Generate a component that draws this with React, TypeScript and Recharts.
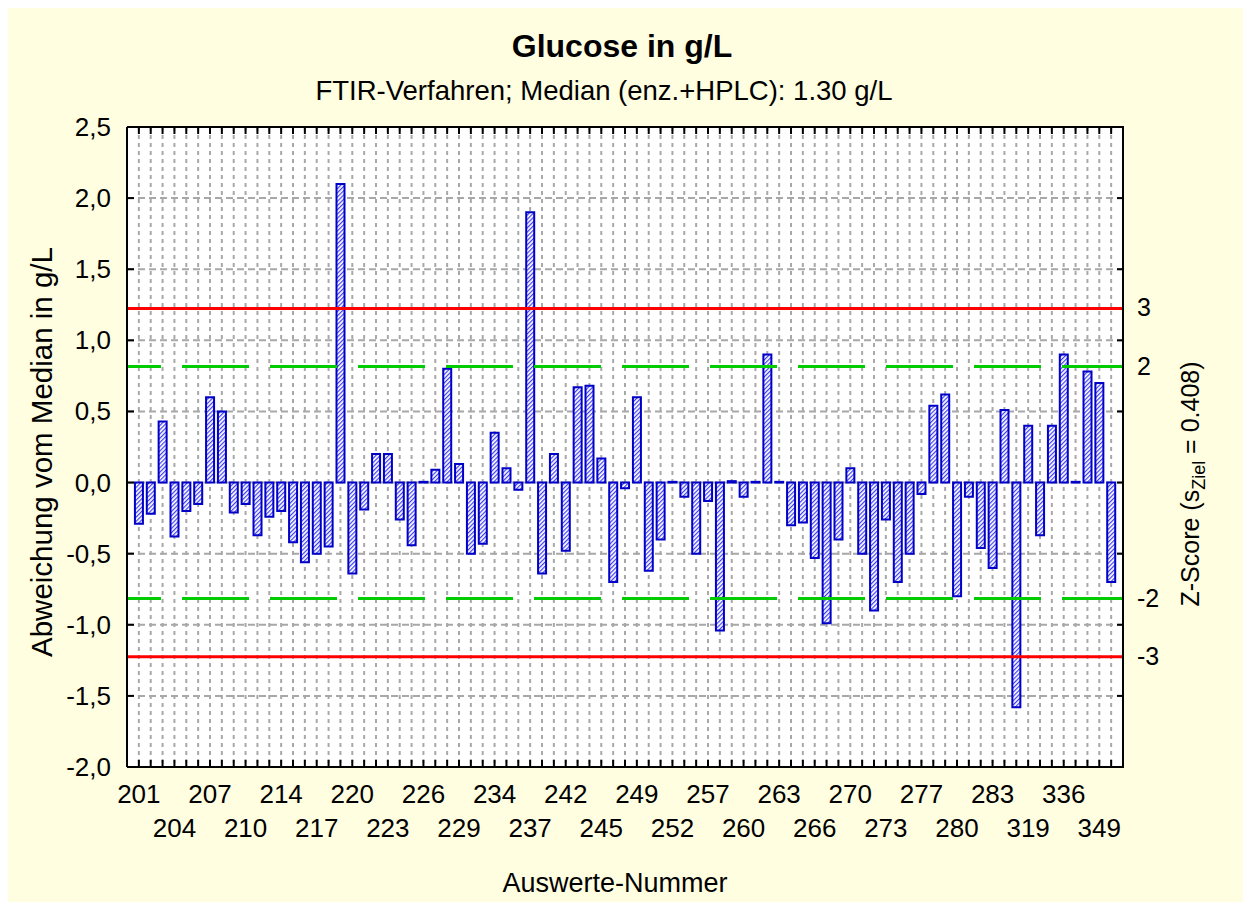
import { BarChart, Bar, XAxis, YAxis, CartesianGrid, ReferenceLine } from "recharts";

// Auswerte-Nummern (every third one is printed on the axis)
const categories = [
  "201", "202", "203", "204", "205", "206", "207", "208", "209", "210",
  "211", "213", "214", "215", "216", "217", "218", "219", "220", "221",
  "222", "223", "224", "225", "226", "227", "228", "229", "231", "232",
  "234", "235", "236", "237", "239", "240", "242", "243", "244", "245",
  "246", "248", "249", "250", "251", "252", "254", "255", "257", "258",
  "259", "260", "261", "262", "263", "264", "265", "266", "267", "268",
  "270", "271", "272", "273", "274", "275", "277", "278", "279", "280",
  "281", "282", "283", "301", "305", "319", "321", "330", "336", "340",
  "345", "349", "351",
];

// Abweichung vom Median in g/L
const deviations = [
  -0.29, -0.22, 0.43, -0.38, -0.2, -0.15, 0.6, 0.5, -0.21, -0.15,
  -0.37, -0.24, -0.2, -0.42, -0.56, -0.5, -0.45, 2.1, -0.64, -0.19,
  0.2, 0.2, -0.26, -0.44, 0.005, 0.09, 0.8, 0.13, -0.5, -0.43,
  0.35, 0.1, -0.05, 1.9, -0.64, 0.2, -0.48, 0.67, 0.68, 0.17,
  -0.7, -0.04, 0.6, -0.62, -0.4, 0.005, -0.1, -0.5, -0.13, -1.04,
  0.01, -0.1, 0.005, 0.9, 0.005, -0.3, -0.28, -0.53, -0.99, -0.4,
  0.1, -0.5, -0.9, -0.26, -0.7, -0.5, -0.08, 0.54, 0.62, -0.8,
  -0.1, -0.46, -0.6, 0.51, -1.58, 0.4, -0.37, 0.4, 0.9, 0.005,
  0.78, 0.7, -0.7,
];

const yTicks = [-2, -1.5, -1, -0.5, 0, 0.5, 1, 1.5, 2, 2.5];
const zLabels = [-3, -2, 2, 3];
const sZiel = 0.408;

const FONT = '"Liberation Sans", Arial, Helvetica, sans-serif';
const W = 1235;
const H = 894;
const M = { top: 118, right: 119, bottom: 134, left: 118 };
const PLOT_RIGHT = W - M.right;

const data = deviations.map((value, idx) => ({ idx, id: categories[idx], value }));
const idxTicks = categories.map((_, i) => i);

const BottomTick = (props: any) => {
  const { x, y, payload } = props;
  const i = payload.value;
  return (
    <g>
      <line x1={x} x2={x} y1={y} y2={y - 7} stroke="#000" strokeWidth={2} />
      {i % 3 === 0 && (
        <text
          x={x}
          y={y + (i % 6 === 0 ? 36 : 70)}
          textAnchor="middle"
          fontSize={26}
          fontFamily={FONT}
          fill="#000"
        >
          {categories[i]}
        </text>
      )}
    </g>
  );
};

const TopTick = (props: any) => {
  const { x, y } = props;
  return <line x1={x} x2={x} y1={y} y2={y + 7} stroke="#000" strokeWidth={2} />;
};

// left labels + inward ticks on both vertical frame sides
const LeftTick = (props: any) => {
  const { x, y, payload } = props;
  return (
    <g>
      <line x1={x} x2={x + 7} y1={y} y2={y} stroke="#000" strokeWidth={2} />
      <line x1={PLOT_RIGHT} x2={PLOT_RIGHT - 7} y1={y} y2={y} stroke="#000" strokeWidth={2} />
      <text x={x - 16} y={y + 9} textAnchor="end" fontSize={26} fontFamily={FONT} fill="#000">
        {payload.value.toFixed(1).replace(".", ",")}
      </text>
    </g>
  );
};

const zLabel = (z: number) => (props: any) => {
  const vb = props.viewBox || {};
  return (
    <text
      x={(vb.x || 0) + (vb.width || 0) + 14}
      y={(vb.y || 0) + 8}
      textAnchor="start"
      fontSize={25}
      fontFamily={FONT}
      fill="#000"
    >
      {z}
    </text>
  );
};

const frame = { stroke: "#000", strokeWidth: 2 };

export default function App() {
  return (
    <div style={{ position: "relative", width: W, height: H, background: "#FFFEE0" }}>
      <BarChart width={W} height={H} data={data} margin={M}>
        <CartesianGrid
          xAxisId="b"
          yAxisId="l"
          fill="#ffffff"
          vertical={false}
          horizontalValues={yTicks}
          stroke="#a8a8a8"
          strokeWidth={2}
          strokeDasharray="7 4"
        />
        <CartesianGrid
          xAxisId="b"
          yAxisId="l"
          horizontal={false}
          verticalValues={idxTicks}
          stroke="#a8a8a8"
          strokeWidth={2}
          strokeDasharray="4 4"
        />
        <XAxis
          xAxisId="b"
          dataKey="idx"
          type="number"
          domain={[-1, 83]}
          ticks={idxTicks}
          interval={0}
          height={1}
          tickSize={0}
          tickMargin={0}
          tickLine={false}
          axisLine={frame}
          tick={BottomTick}
        />
        <XAxis
          xAxisId="t"
          orientation="top"
          dataKey="idx"
          type="number"
          domain={[-1, 83]}
          ticks={idxTicks}
          interval={0}
          height={1}
          tickSize={0}
          tickMargin={0}
          tickLine={false}
          axisLine={frame}
          tick={TopTick}
        />
        <YAxis
          yAxisId="l"
          domain={[-2, 2.5]}
          ticks={yTicks}
          interval={0}
          width={1}
          tickSize={0}
          tickMargin={0}
          tickLine={false}
          axisLine={frame}
          tick={LeftTick}
        />
        <YAxis
          yAxisId="r"
          orientation="right"
          domain={[-2, 2.5]}
          ticks={yTicks}
          width={1}
          tickLine={false}
          axisLine={frame}
          tick={false}
        />
        <Bar
          xAxisId="b"
          yAxisId="l"
          dataKey="value"
          barSize={8}
          fill="url(#hatch)"
          stroke="#0000c8"
          strokeWidth={2}
          isAnimationActive={false}
        />
        {zLabels.map((z) => (
          <ReferenceLine
            key={z}
            xAxisId="b"
            yAxisId="l"
            y={z * sZiel}
            stroke={Math.abs(z) === 3 ? "#ff0000" : "#00cc00"}
            strokeWidth={3}
            strokeDasharray={Math.abs(z) === 3 ? undefined : "67 21"}
            strokeDashoffset={Math.abs(z) === 3 ? undefined : 33}
            label={zLabel(z)}
          />
        ))}
      </BarChart>
      <svg
        width={W}
        height={H}
        style={{ position: "absolute", left: 0, top: 0, pointerEvents: "none" }}
      >
        <defs>
          <pattern id="hatch" patternUnits="userSpaceOnUse" width={3} height={3} patternTransform="rotate(45)">
            <rect width={3} height={3} fill="#ffffff" />
            <line x1={0.6} x2={0.6} y1={0} y2={3} stroke="#3c3cf0" strokeWidth={1.2} />
          </pattern>
        </defs>
        <text x={614} y={49} textAnchor="middle" fontSize={32} fontWeight="bold" fontFamily={FONT} fill="#000">
          Glucose in g/L
        </text>
        <text x={596} y={92} textAnchor="middle" fontSize={27.5} fontFamily={FONT} fill="#000">
          FTIR-Verfahren; Median (enz.+HPLC): 1.30 g/L
        </text>
        <text x={607} y={884} textAnchor="middle" fontSize={27} fontFamily={FONT} fill="#000">
          Auswerte-Nummer
        </text>
        <text transform="translate(44,444) rotate(-90)" textAnchor="middle" fontSize={29.5} fontFamily={FONT} fill="#000">
          Abweichung vom Median in g/L
        </text>
        <text transform="translate(1191,476) rotate(-90)" textAnchor="middle" fontSize={25} fontFamily={FONT} fill="#000">
          Z-Score (s
          <tspan fontSize={18} dy={6}>Ziel</tspan>
          <tspan dy={-6}>{"  = 0.408)"}</tspan>
        </text>
      </svg>
    </div>
  );
}
